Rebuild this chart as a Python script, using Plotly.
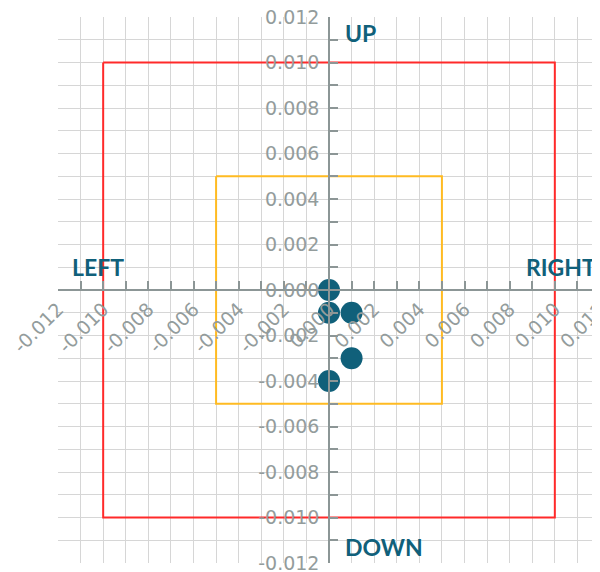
import plotly.graph_objects as go

# Points to plot
point_x = [0.0, 0.0, 0.001, 0.001, 0.0]
point_y = [0.0, -0.001, -0.001, -0.003, -0.004]

# Outer (red) and inner (orange) boxes, corners in order
outer_x = [-0.010, 0.010, 0.010, -0.010, -0.010]
outer_y = [0.010, 0.010, -0.010, -0.010, 0.010]
inner_x = [-0.005, 0.005, 0.005, -0.005, -0.005]
inner_y = [0.005, 0.005, -0.005, -0.005, 0.005]

# Axis ticks
tick_vals = [-0.012, -0.010, -0.008, -0.006, -0.004, -0.002, 0.0,
             0.002, 0.004, 0.006, 0.008, 0.010, 0.012]
tick_text = ['-0.012', '-0.010', '-0.008', '-0.006', '-0.004', '-0.002', '0.000',
             '0.002', '0.004', '0.006', '0.008', '0.010', '0.012']

# Direction labels
dir_labels = ['UP', 'DOWN', 'LEFT', 'RIGHT']

TEAL = '#10607a'
AXIS_GRAY = '#8c9696'
GRID = '#d6d6d6'

fig = go.Figure()

fig.add_trace(go.Scatter(x=outer_x, y=outer_y, mode='lines',
                         line=dict(color='#ff2a2a', width=2),
                         hoverinfo='skip', showlegend=False))
fig.add_trace(go.Scatter(x=inner_x, y=inner_y, mode='lines',
                         line=dict(color='#ffbb22', width=2),
                         hoverinfo='skip', showlegend=False))
fig.add_trace(go.Scatter(x=point_x, y=point_y, mode='markers',
                         marker=dict(color=TEAL, size=22),
                         showlegend=False))

axis_common = dict(
    range=[-0.012, 0.012],
    tickmode='array',
    tickvals=tick_vals,
    ticktext=tick_text,
    ticks='inside',
    ticklen=8,
    tickcolor=AXIS_GRAY,
    tickwidth=1.5,
    tickfont=dict(family='DejaVu Sans', size=19, color='#939c9c'),
    ticklabeloverflow='allow',
    showline=True,
    linecolor=AXIS_GRAY,
    linewidth=1.5,
    showgrid=True,
    gridcolor=GRID,
    gridwidth=1,
    zeroline=False,
    anchor='free',
    position=0.5,
    automargin=False,
    minor=dict(tickmode='linear', tick0=0, dtick=0.001, ticks='inside',
               ticklen=8, tickcolor=AXIS_GRAY, tickwidth=1.5,
               showgrid=True, gridcolor=GRID, gridwidth=1),
)

fig.update_xaxes(**axis_common, tickangle=-45)
fig.update_yaxes(**axis_common, ticklabelstandoff=5)

label_font = dict(family='Lato', size=23, color=TEAL)
fig.add_annotation(x=0.00062, y=0.0113, text='<b>%s</b>' % dir_labels[0],
                   showarrow=False, xanchor='left', yanchor='middle', font=label_font)
fig.add_annotation(x=0.00062, y=-0.0113, text='<b>%s</b>' % dir_labels[1],
                   showarrow=False, xanchor='left', yanchor='middle', font=label_font)
fig.add_annotation(x=-0.01145, y=0.001, text='<b>%s</b>' % dir_labels[2],
                   showarrow=False, xanchor='left', yanchor='middle', font=label_font)
fig.add_annotation(x=0.0119, y=0.001, text='<b>%s</b>' % dir_labels[3],
                   showarrow=False, xanchor='right', yanchor='middle', font=label_font)

# the page adds an 8px body margin, so the figure is 8px smaller each way
fig.update_layout(
    width=592,
    height=564,
    margin=dict(l=50, r=0, t=9, b=9, autoexpand=False),
    paper_bgcolor='white',
    plot_bgcolor='white',
    showlegend=False,
)

fig.write_html("out.html")
